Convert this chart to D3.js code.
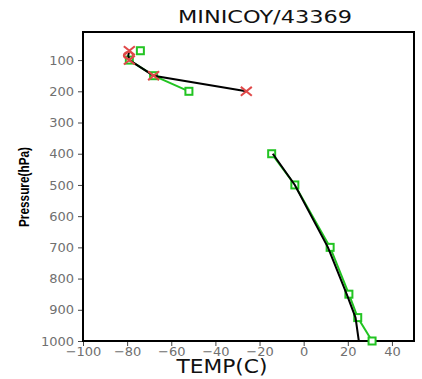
<!DOCTYPE html>
<html><head><meta charset="utf-8">
<script src="https://cdn.jsdelivr.net/npm/d3@7"></script>
<style>body{margin:0;background:#fff}</style>
</head><body>
<svg id="c" width="422" height="379"></svg>
<script>
const title = "MINICOY/43369";
const levels = [70, 85, 100, 150, 200, 300, 400, 500, 700, 850, 925, 1000];
const obsTemp = [-79, -79.5, -79, -68, -26, null, -14, -4, 11, 19.5, 23.5, 25];
const modelTemp = [-74, null, -79, -68, -52, null, -14.5, -4, 12, 20.5, 24.5, 31];
const crossLevels = [70, 100, 150, 200];
const circleLevels = [85];
const xTicks = [-100, -80, -60, -40, -20, 0, 20, 40];
const yTicks = [100, 200, 300, 400, 500, 600, 700, 800, 900, 1000];

const svg = d3.select("#c");
const L = 83, R = 414, T = 32, B = 341;
const x = d3.scaleLinear().domain([-100, 50]).range([L, R]);
const y = d3.scaleLinear().domain([10, 1000]).range([T, B]);

// title
svg.append("text").attr("x", 265).attr("y", 23).attr("text-anchor", "middle")
  .attr("font-family", "DejaVu Sans").attr("font-size", 17)
  .attr("textLength", 174).attr("lengthAdjust", "spacingAndGlyphs")
  .attr("fill", "#111").text(title);

// axes
const fmt = d3.format("");
const xAxis = svg.append("g").attr("transform", `translate(0,${B})`)
  .call(d3.axisBottom(x).tickValues(xTicks).tickSize(5).tickSizeOuter(0).tickFormat(fmt));
const yAxis = svg.append("g").attr("transform", `translate(${L},0)`)
  .call(d3.axisLeft(y).tickValues(yTicks).tickSize(5).tickSizeOuter(0).tickFormat(fmt));
[xAxis, yAxis].forEach(g => {
  g.select(".domain").remove();
  g.selectAll(".tick line").attr("stroke", "#444").attr("stroke-width", 1);
  g.selectAll(".tick text").attr("fill", "#707070").attr("font-family", "DejaVu Sans")
    .attr("font-size", 13);
});
xAxis.selectAll(".tick text").attr("dy", "0.55em").attr("y", 8);
yAxis.selectAll(".tick text").attr("x", -9);

// frame
svg.append("rect").attr("x", L).attr("y", T).attr("width", R - L).attr("height", B - T)
  .attr("fill", "none").attr("stroke", "#000").attr("stroke-width", 2);

// axis labels
svg.append("text").attr("transform", "translate(29,187) rotate(-90)")
  .attr("text-anchor", "middle").attr("font-family", "Liberation Sans Narrow, Liberation Sans")
  .attr("font-weight", "bold").attr("font-size", 15).attr("textLength", 80)
  .attr("lengthAdjust", "spacingAndGlyphs")
  .attr("fill", "#000").text("Pressure(hPa)");
svg.append("text").attr("x", 222).attr("y", 373).attr("text-anchor", "middle")
  .attr("font-family", "DejaVu Sans").attr("font-size", 20).attr("textLength", 91)
  .attr("lengthAdjust", "spacingAndGlyphs")
  .attr("fill", "#111").text("TEMP(C)");

// lines
const pts = (arr) => levels.map((p, i) => ({p, t: arr[i]}));
const line = d3.line().defined(d => d.t != null).x(d => x(d.t)).y(d => y(d.p));

svg.append("path").datum(pts(modelTemp)).attr("d", line)
  .attr("fill", "none").attr("stroke", "#22c422").attr("stroke-width", 2);

// green squares
svg.append("g").selectAll("rect").data(pts(modelTemp).filter(d => d.t != null)).join("rect")
  .attr("x", d => x(d.t) - 3.5).attr("y", d => y(d.p) - 3.5).attr("width", 7).attr("height", 7)
  .attr("fill", "#fff").attr("stroke", "#22c422").attr("stroke-width", 2);

svg.append("path").datum(pts(obsTemp)).attr("d", line)
  .attr("fill", "none").attr("stroke", "#000").attr("stroke-width", 2);

// red markers on observed
const obsAt = p => obsTemp[levels.indexOf(p)];
const cross = svg.append("g").attr("stroke", "#e04848").attr("stroke-width", 2);
crossLevels.forEach(p => {
  const cx = x(obsAt(p)), cy = y(p), s = 5.5;
  cross.append("line").attr("x1", cx - s).attr("y1", cy - s * 0.8).attr("x2", cx + s).attr("y2", cy + s * 0.8);
  cross.append("line").attr("x1", cx - s).attr("y1", cy + s * 0.8).attr("x2", cx + s).attr("y2", cy - s * 0.8);
});
circleLevels.forEach(p => {
  svg.append("ellipse").attr("cx", x(obsAt(p))).attr("cy", y(p)).attr("rx", 4.5).attr("ry", 3.5)
    .attr("fill", "none").attr("stroke", "#e04848").attr("stroke-width", 1.8);
});
</script>
</body></html>
